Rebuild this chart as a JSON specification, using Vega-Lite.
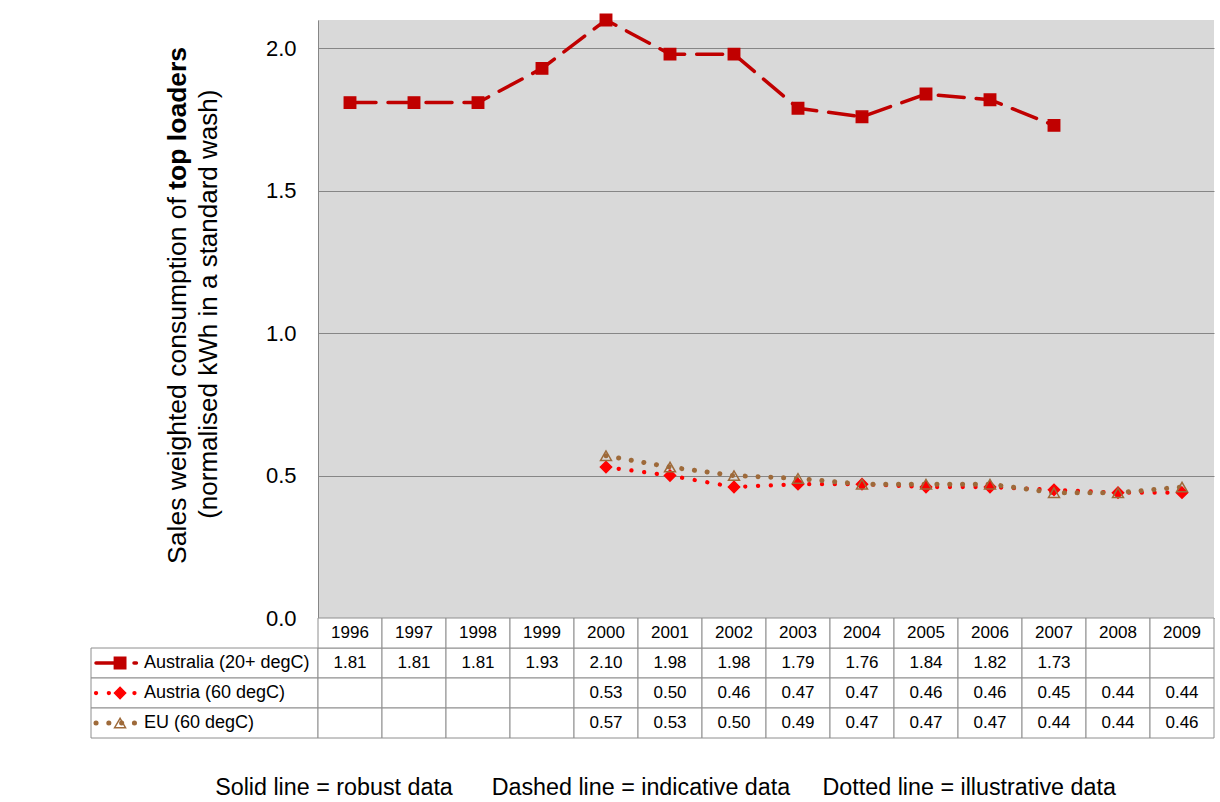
{
  "$schema": "https://vega.github.io/schema/vega-lite/v6.json",
  "padding": {"left": 90, "top": 11, "right": 5, "bottom": 5},
  "columns": 2,
  "spacing": 0,
  "bounds": "flush",
  "config": {"view": {"stroke": null}, "font": "Liberation Sans"},
  "title": {
    "text": "Solid line = robust data\u00a0\u00a0\u00a0\u00a0\u00a0\u00a0Dashed line = indicative data\u00a0\u00a0\u00a0\u00a0\u00a0Dotted line = illustrative data",
    "orient": "bottom", "anchor": "middle", "fontSize": 23.3, "fontWeight": "normal", "color": "#000000", "offset": 38, "dx": 13
  },
  "datasets": {
    "s": [
      {"series": "Australia (20+ degC)", "year": "1996", "value": 1.81},
      {"series": "Australia (20+ degC)", "year": "1997", "value": 1.81},
      {"series": "Australia (20+ degC)", "year": "1998", "value": 1.81},
      {"series": "Australia (20+ degC)", "year": "1999", "value": 1.93},
      {"series": "Australia (20+ degC)", "year": "2000", "value": 2.10},
      {"series": "Australia (20+ degC)", "year": "2001", "value": 1.98},
      {"series": "Australia (20+ degC)", "year": "2002", "value": 1.98},
      {"series": "Australia (20+ degC)", "year": "2003", "value": 1.79},
      {"series": "Australia (20+ degC)", "year": "2004", "value": 1.76},
      {"series": "Australia (20+ degC)", "year": "2005", "value": 1.84},
      {"series": "Australia (20+ degC)", "year": "2006", "value": 1.82},
      {"series": "Australia (20+ degC)", "year": "2007", "value": 1.73},
      {"series": "Australia (20+ degC)", "year": "2008", "value": null},
      {"series": "Australia (20+ degC)", "year": "2009", "value": null},
      {"series": "Austria (60 degC)", "year": "1996", "value": null},
      {"series": "Austria (60 degC)", "year": "1997", "value": null},
      {"series": "Austria (60 degC)", "year": "1998", "value": null},
      {"series": "Austria (60 degC)", "year": "1999", "value": null},
      {"series": "Austria (60 degC)", "year": "2000", "value": 0.53},
      {"series": "Austria (60 degC)", "year": "2001", "value": 0.50},
      {"series": "Austria (60 degC)", "year": "2002", "value": 0.46},
      {"series": "Austria (60 degC)", "year": "2003", "value": 0.47},
      {"series": "Austria (60 degC)", "year": "2004", "value": 0.47},
      {"series": "Austria (60 degC)", "year": "2005", "value": 0.46},
      {"series": "Austria (60 degC)", "year": "2006", "value": 0.46},
      {"series": "Austria (60 degC)", "year": "2007", "value": 0.45},
      {"series": "Austria (60 degC)", "year": "2008", "value": 0.44},
      {"series": "Austria (60 degC)", "year": "2009", "value": 0.44},
      {"series": "EU (60 degC)", "year": "1996", "value": null},
      {"series": "EU (60 degC)", "year": "1997", "value": null},
      {"series": "EU (60 degC)", "year": "1998", "value": null},
      {"series": "EU (60 degC)", "year": "1999", "value": null},
      {"series": "EU (60 degC)", "year": "2000", "value": 0.57},
      {"series": "EU (60 degC)", "year": "2001", "value": 0.53},
      {"series": "EU (60 degC)", "year": "2002", "value": 0.50},
      {"series": "EU (60 degC)", "year": "2003", "value": 0.49},
      {"series": "EU (60 degC)", "year": "2004", "value": 0.47},
      {"series": "EU (60 degC)", "year": "2005", "value": 0.47},
      {"series": "EU (60 degC)", "year": "2006", "value": 0.47},
      {"series": "EU (60 degC)", "year": "2007", "value": 0.44},
      {"series": "EU (60 degC)", "year": "2008", "value": 0.44},
      {"series": "EU (60 degC)", "year": "2009", "value": 0.46}
    ],
    "t": [
      {"line": "Sales weighted consumption of\u00a0\u200b", "part": "normal"},
      {"line": "top loaders", "part": "bold"},
      {"line": "(normalised kWh in a standard wash)", "part": "second"}
    ]
  },
  "concat": [
    {
      "width": 227, "height": 598,
      "data": {"name": "t"},
      "encoding": {
        "x": {"datum": 0.383, "type": "quantitative", "axis": null,
          "scale": {"domain": [0, 1], "nice": false, "zero": true}},
        "y": {"datum": 1.504, "type": "quantitative", "axis": null,
          "scale": {"domain": [0, 2.1], "nice": false, "zero": true}},
        "text": {"field": "line"}
      },
      "layer": [
        {
          "transform": [{"filter": "datum.part == 'normal'"}],
          "mark": {"type": "text", "angle": 270, "align": "right", "baseline": "middle", "fontSize": 26.5, "color": "#000000"}
        },
        {
          "transform": [{"filter": "datum.part == 'bold'"}],
          "mark": {"type": "text", "angle": 270, "align": "left", "baseline": "middle", "fontSize": 26.5, "fontWeight": "bold", "color": "#000000"}
        },
        {
          "transform": [{"filter": "datum.part == 'second'"}],
          "mark": {"type": "text", "angle": 270, "align": "center", "baseline": "middle", "fontSize": 26, "color": "#000000"},
          "encoding": {
            "x": {"datum": 0.52, "type": "quantitative"},
            "y": {"datum": 1.102, "type": "quantitative"}
          }
        }
      ]
    },
    {
      "width": 896, "height": 598,
      "view": {"fill": "#D9D9D9", "stroke": null},
      "data": {"name": "s"},
      "transform": [{"filter": "datum.value != null"}],
      "encoding": {
        "x": {"field": "year", "type": "ordinal", "scale": {"type": "point", "padding": 0.5}, "axis": null},
        "y": {
          "field": "value", "type": "quantitative",
          "scale": {"domain": [0, 2.1], "nice": false, "zero": true},
          "axis": {
            "values": [0, 0.5, 1, 1.5, 2], "format": ".1f",
            "grid": true, "gridColor": "#868686", "gridWidth": 1, "gridOpacity": 1,
            "ticks": false, "tickSize": 0,
            "domain": true, "domainColor": "#868686", "domainWidth": 1,
            "labelFontSize": 22, "labelColor": "#000000", "labelPadding": 22,
            "title": null
          }
        }
      },
      "layer": [
        {
          "mark": {"type": "line", "strokeCap": "round"},
          "encoding": {
            "color": {"field": "series", "type": "nominal", "legend": null,
              "scale": {"domain": ["Australia (20+ degC)", "Austria (60 degC)", "EU (60 degC)"], "range": ["#C00000", "#FF0000", "#9E6A3A"]}},
            "strokeDash": {"field": "series", "type": "nominal", "legend": null,
              "scale": {"domain": ["Australia (20+ degC)", "Austria (60 degC)", "EU (60 degC)"], "range": [[26, 12], [0.1, 12.7], [0.1, 12.7]]}},
            "strokeWidth": {"field": "series", "type": "nominal", "legend": null,
              "scale": {"domain": ["Australia (20+ degC)", "Austria (60 degC)", "EU (60 degC)"], "range": [3.5, 5, 5]}}
          }
        },
        {
          "mark": {"type": "point", "filled": true, "opacity": 1, "strokeWidth": 1.5},
          "encoding": {
            "shape": {"field": "series", "type": "nominal", "legend": null,
              "scale": {"domain": ["Australia (20+ degC)", "Austria (60 degC)", "EU (60 degC)"], "range": ["square", "diamond", "triangle-up"]}},
            "size": {"field": "series", "type": "nominal", "legend": null,
              "scale": {"domain": ["Australia (20+ degC)", "Austria (60 degC)", "EU (60 degC)"], "range": [130, 120, 200]}},
            "fill": {"field": "series", "type": "nominal", "legend": null,
              "scale": {"domain": ["Australia (20+ degC)", "Austria (60 degC)", "EU (60 degC)"], "range": ["#C00000", "#FF0000", "transparent"]}},
            "stroke": {"field": "series", "type": "nominal", "legend": null,
              "scale": {"domain": ["Australia (20+ degC)", "Austria (60 degC)", "EU (60 degC)"], "range": ["#C00000", "#FF0000", "#9E6A3A"]}}
          }
        }
      ]
    },
    {
      "width": 227, "height": 120,
      "data": {"name": "s"},
      "transform": [{"filter": "datum.year == '1996'"}],
      "encoding": {
        "y": {"field": "series", "type": "nominal", "axis": null,
          "scale": {"type": "band", "domain": ["hdr", "Australia (20+ degC)", "Austria (60 degC)", "EU (60 degC)"], "paddingInner": 0, "paddingOuter": 0}}
      },
      "layer": [
        {
          "mark": {"type": "rect", "fill": "#FFFFFF", "stroke": "#8E8E8E", "strokeWidth": 1},
          "encoding": {
            "x": {"datum": 0, "type": "quantitative", "scale": {"domain": [0, 1], "nice": false}, "axis": null},
            "x2": {"datum": 1}
          }
        },
        {
          "mark": {"type": "rule", "strokeCap": "round"},
          "encoding": {
            "x": {"datum": 0.022, "type": "quantitative"},
            "x2": {"datum": 0.2},
            "color": {"field": "series", "type": "nominal", "legend": null,
              "scale": {"domain": ["Australia (20+ degC)", "Austria (60 degC)", "EU (60 degC)"], "range": ["#C00000", "#FF0000", "#9E6A3A"]}},
            "strokeDash": {"field": "series", "type": "nominal", "legend": null,
              "scale": {"domain": ["Australia (20+ degC)", "Austria (60 degC)", "EU (60 degC)"], "range": [[26, 12], [0.1, 12.7], [0.1, 12.7]]}},
            "strokeWidth": {"field": "series", "type": "nominal", "legend": null,
              "scale": {"domain": ["Australia (20+ degC)", "Austria (60 degC)", "EU (60 degC)"], "range": [3.5, 5, 5]}}
          }
        },
        {
          "mark": {"type": "point", "filled": true, "opacity": 1, "strokeWidth": 1.5},
          "encoding": {
            "x": {"datum": 0.128, "type": "quantitative"},
            "shape": {"field": "series", "type": "nominal", "legend": null,
              "scale": {"domain": ["Australia (20+ degC)", "Austria (60 degC)", "EU (60 degC)"], "range": ["square", "diamond", "triangle-up"]}},
            "size": {"field": "series", "type": "nominal", "legend": null,
              "scale": {"domain": ["Australia (20+ degC)", "Austria (60 degC)", "EU (60 degC)"], "range": [130, 120, 200]}},
            "fill": {"field": "series", "type": "nominal", "legend": null,
              "scale": {"domain": ["Australia (20+ degC)", "Austria (60 degC)", "EU (60 degC)"], "range": ["#C00000", "#FF0000", "#FFFFFF"]}},
            "stroke": {"field": "series", "type": "nominal", "legend": null,
              "scale": {"domain": ["Australia (20+ degC)", "Austria (60 degC)", "EU (60 degC)"], "range": ["#C00000", "#FF0000", "#9E6A3A"]}}
          }
        },
        {
          "mark": {"type": "text", "align": "left", "baseline": "middle", "fontSize": 18, "color": "#000000"},
          "encoding": {
            "x": {"datum": 0.233, "type": "quantitative"},
            "text": {"field": "series", "type": "nominal"}
          }
        }
      ]
    },
    {
      "width": 896, "height": 120,
      "data": {"name": "s"},
      "encoding": {
        "x": {"field": "year", "type": "ordinal", "axis": null,
          "scale": {"type": "band", "domain": ["1996","1997","1998","1999","2000","2001","2002","2003","2004","2005","2006","2007","2008","2009"], "paddingInner": 0, "paddingOuter": 0}},
        "y": {"field": "series", "type": "nominal", "axis": null,
          "scale": {"type": "band", "domain": ["hdr", "Australia (20+ degC)", "Austria (60 degC)", "EU (60 degC)"], "paddingInner": 0, "paddingOuter": 0}}
      },
      "layer": [
        {
          "mark": {"type": "rect", "fill": "#FFFFFF", "stroke": "#8E8E8E", "strokeWidth": 1}
        },
        {
          "transform": [{"filter": "datum.series == 'Australia (20+ degC)'"}],
          "mark": {"type": "rect", "fill": "#FFFFFF", "stroke": "#8E8E8E", "strokeWidth": 1},
          "encoding": {"y": {"datum": "hdr", "type": "nominal"}}
        },
        {
          "transform": [{"filter": "datum.value != null"}],
          "mark": {"type": "text", "align": "center", "baseline": "middle", "fontSize": 17, "color": "#000000"},
          "encoding": {"text": {"field": "value", "type": "quantitative", "format": ".2f"}}
        },
        {
          "transform": [{"filter": "datum.series == 'Australia (20+ degC)'"}],
          "mark": {"type": "text", "align": "center", "baseline": "middle", "fontSize": 17, "color": "#000000"},
          "encoding": {"y": {"datum": "hdr", "type": "nominal"}, "text": {"field": "year", "type": "nominal"}}
        }
      ]
    }
  ]
}
